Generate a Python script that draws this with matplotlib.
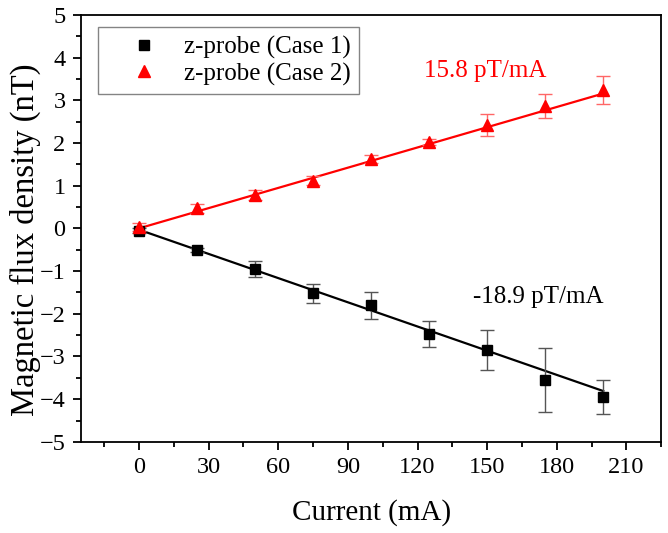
import matplotlib
matplotlib.use("Agg")
import matplotlib.pyplot as plt
import numpy as np
from matplotlib.ticker import MultipleLocator

plt.rcParams['font.family'] = ['Liberation Serif', 'DejaVu Serif']

# measured data
current = [0, 25, 50, 75, 100, 125, 150, 175, 200]
case1 = [-0.05, -0.5, -0.95, -1.52, -1.8, -2.47, -2.85, -3.55, -3.95]
case1_err = [0.05, 0.05, 0.18, 0.22, 0.32, 0.3, 0.47, 0.75, 0.4]
case2 = [0.03, 0.47, 0.78, 1.12, 1.63, 2.02, 2.42, 2.87, 3.25]
case2_err = [0.1, 0.1, 0.12, 0.1, 0.1, 0.07, 0.25, 0.28, 0.33]

# linear fits (slope in nT/mA)
fit1 = [-0.0189, -0.03]
fit2 = [0.0158, 0.0]

fig = plt.figure(figsize=(6.68, 5.33), dpi=100)
ax = fig.add_axes([0.121, 0.171, 0.869, 0.801])

x = np.array(current)
ax.plot(x, np.polyval(fit1, x), color="black", lw=1.6, zorder=2)
ax.plot(x, np.polyval(fit2, x), color="red", lw=1.6, zorder=2)

ax.errorbar(current, case1, yerr=case1_err, fmt="none", ecolor="#555555",
            elinewidth=1, capsize=5, capthick=1, zorder=3)
ax.errorbar(current, case2, yerr=case2_err, fmt="none", ecolor="#ff6666",
            elinewidth=1, capsize=5, capthick=1, zorder=3)
ax.plot(current, case1, "s", color="black", ms=7.5, ls="none",
        label="z-probe (Case 1)", zorder=4)
ax.plot(current, case2, "^", color="red", ms=9, ls="none",
        label="z-probe (Case 2)", zorder=4)

ax.text(149, 3.68, "15.8 pT/mA", color="red", fontsize=18, ha="center", va="center")
ax.text(172, -1.6, "-18.9 pT/mA", color="black", fontsize=18, ha="center", va="center")

ax.set_xlim(-25, 225)
ax.set_ylim(-5, 5)
ax.set_xticks(range(0, 211, 30))
ax.set_yticks(range(-5, 6))
ax.xaxis.set_minor_locator(MultipleLocator(15))
ax.yaxis.set_minor_locator(MultipleLocator(0.5))
ax.tick_params(which="major", direction="out", length=6, width=1.3, labelsize=17.5, pad=5)
ax.tick_params(which="minor", direction="out", length=3.5, width=1.3)
ax.tick_params(top=False, right=False)
for s in ax.spines.values():
    s.set_linewidth(1.3)

ax.set_xlabel("Current (mA)", fontsize=21, labelpad=15)
ax.set_ylabel("Magnetic flux density (nT)", fontsize=23.5)
ax.yaxis.set_label_coords(-0.068, 0.473)

leg = ax.legend(loc="upper left", fontsize=18, frameon=True, fancybox=False,
                edgecolor="#666666", borderpad=0.35, handletextpad=0.1,
                bbox_to_anchor=(0.029, 0.972), borderaxespad=0,
                labelspacing=0.15, handlelength=3.0)
leg.get_frame().set_linewidth(1)

fig.savefig("out.png", dpi=100)
